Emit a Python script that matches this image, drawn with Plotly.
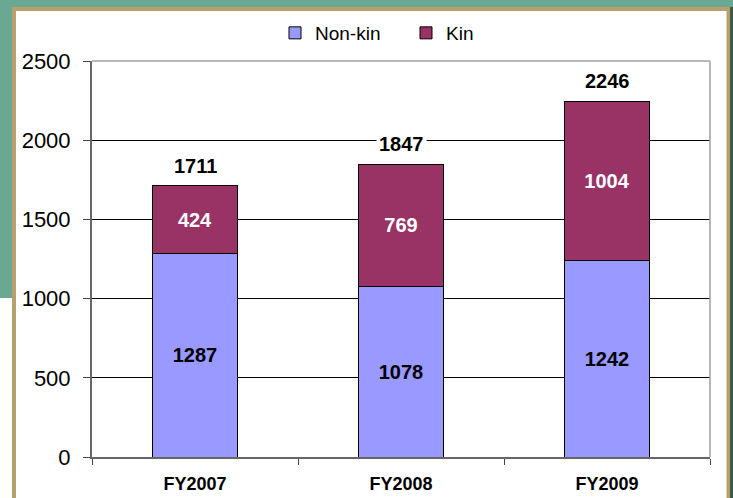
import plotly.graph_objects as go

categories = ["FY2007", "FY2008", "FY2009"]
non_kin = [1287, 1078, 1242]
kin = [424, 769, 1004]
totals = [1711, 1847, 2246]
y_ticks = [0, 500, 1000, 1500, 2000, 2500]

W, H = 733, 498
L, R, T, B = 92, 710, 61, 457
pw, ph = R - L, B - T


def px(x):
    return (x - L) / pw


def py(y):
    return (B - y) / ph


TEAL = "#6aa893"
TAN = "#b8a06e"
DARK = "#3d5a45"
FONT = "Liberation Sans, Arial"

fig = go.Figure()
fig.add_trace(go.Bar(
    x=categories, y=non_kin, name="Non-kin",
    marker=dict(color="#9999ff", line=dict(color="#000000", width=1)),
    text=[str(v) for v in non_kin], textposition="inside",
    insidetextanchor="middle",
    textfont=dict(family=FONT, size=20, color="#000000", weight="bold"),
    hoverinfo="skip",
))
fig.add_trace(go.Bar(
    x=categories, y=kin, name="Kin",
    marker=dict(color="#993366", line=dict(color="#000000", width=1)),
    text=[str(v) for v in kin], textposition="inside",
    insidetextanchor="middle",
    textfont=dict(family=FONT, size=20, color="#ffffff", weight="bold"),
    hoverinfo="skip",
))

for c, t in zip(categories, totals):
    fig.add_annotation(
        x=c, y=t, text=str(t), showarrow=False, yanchor="bottom", yshift=6,
        font=dict(family=FONT, size=20, color="#000000", weight="bold"),
        bgcolor="#ffffff", borderpad=2,
    )

shapes = [
    dict(type="rect", xref="paper", yref="paper", x0=px(-5), x1=px(13), y0=py(298), y1=py(520),
         fillcolor="#ffffff", line=dict(width=0), layer="below"),
    dict(type="rect", xref="paper", yref="paper", x0=px(12), x1=px(730), y0=py(7), y1=py(520),
         fillcolor=TAN, line=dict(width=0), layer="below"),
    dict(type="rect", xref="paper", yref="paper", x0=px(730), x1=px(745), y0=py(7), y1=py(520),
         fillcolor=DARK, line=dict(width=0), layer="below"),
    dict(type="rect", xref="paper", yref="paper", x0=px(16), x1=px(726.5), y0=py(11), y1=py(520),
         fillcolor="#ffffff", line=dict(width=0), layer="below"),
    dict(type="line", xref="paper", yref="paper", x0=0, x1=1, y0=1, y1=1,
         line=dict(color="#a0a0a0", width=1.5), layer="above"),
    dict(type="line", xref="paper", yref="paper", x0=1, x1=1, y0=0, y1=1,
         line=dict(color="#a0a0a0", width=1.5), layer="above"),
]

fig.update_layout(
    width=W, height=H,
    margin=dict(l=L, r=W - R, t=T, b=H - B, pad=0, autoexpand=False),
    paper_bgcolor=TEAL,
    plot_bgcolor="rgba(0,0,0,0)",
    barmode="stack",
    bargap=0.59,
    shapes=shapes,
    showlegend=True,
    legend=dict(
        orientation="h", x=px(275), xanchor="left", y=py(33), yanchor="middle",
        font=dict(family=FONT, size=19, color="#000000"),
        bgcolor="rgba(0,0,0,0)", itemwidth=30, traceorder="normal",
        entrywidth=86,
    ),
    font=dict(family=FONT, color="#000000"),
    yaxis=dict(
        range=[0, 2500], tickvals=y_ticks, ticktext=[str(v) for v in y_ticks],
        showgrid=True, gridcolor="#000000", gridwidth=1,
        showline=True, linecolor="#666666", linewidth=2,
        ticks="outside", ticklen=7, tickcolor="#444444", tickwidth=1,
        tickfont=dict(size=22, color="#000000"), ticklabelstandoff=8,
        zeroline=False, automargin=False,
    ),
    xaxis=dict(
        showline=True, linecolor="#666666", linewidth=2,
        ticks="outside", tickson="boundaries", ticklen=6, tickcolor="#444444",
        tickfont=dict(size=18, color="#000000", weight="bold"),
        ticklabelstandoff=9, automargin=False,
        showgrid=False,
    ),
)

fig.write_html(
    "out.html",
    config={"displayModeBar": False},
    post_script="document.body.style.margin='0';document.body.style.overflow='hidden';",
)
